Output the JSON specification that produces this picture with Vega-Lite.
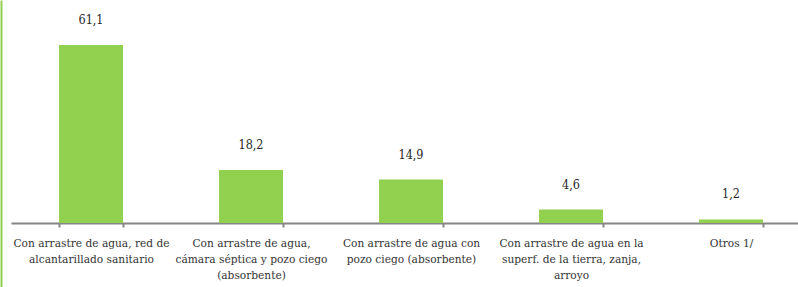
{
  "$schema": "https://vega.github.io/schema/vega-lite/v6.json",
  "width": 787,
  "height": 287,
  "autosize": "none",
  "padding": {"left": 11, "top": 0, "right": 0, "bottom": 0},
  "background": "white",
  "config": {
    "view": {"stroke": null},
    "locale": {"number": {"decimal": ",", "thousands": ".", "grouping": [3], "currency": ["", ""]}}
  },
  "data": {
    "values": [
      {"categoria": "Con arrastre de agua, red de\nalcantarillado sanitario", "porcentaje": 61.1},
      {"categoria": "Con arrastre de agua,\ncámara séptica y pozo ciego\n(absorbente)", "porcentaje": 18.2},
      {"categoria": "Con arrastre de agua con\npozo ciego (absorbente)", "porcentaje": 14.9},
      {"categoria": "Con arrastre de agua en la\nsuperf. de la tierra, zanja,\narroyo", "porcentaje": 4.6},
      {"categoria": "Otros 1/", "porcentaje": 1.2}
    ]
  },
  "encoding": {
    "x": {
      "field": "categoria",
      "type": "nominal",
      "sort": null,
      "scale": {"range": [0, 800], "paddingInner": 0.6, "paddingOuter": 0.3},
      "axis": {
        "title": null,
        "labelAngle": 0,
        "labelExpr": "split(datum.label, '\\n')",
        "labelFont": "DejaVu Serif Condensed",
        "labelFontSize": 11.8,
        "labelColor": "#333333",
        "labelLineHeight": 16,
        "labelPadding": 10,
        "labelLimit": 0,
        "tickBand": "extent",
        "tickSize": 4,
        "tickColor": "#868686",
        "tickWidth": 2,
        "domainColor": "#868686",
        "domainWidth": 2,
        "offset": -64
      }
    },
    "y": {
      "field": "porcentaje",
      "type": "quantitative",
      "scale": {"domain": [-21.96, 76.5], "nice": false, "zero": false},
      "axis": {
        "title": null,
        "labels": false,
        "ticks": false,
        "grid": false,
        "domainColor": "#92D050",
        "domainWidth": 2,
        "offset": 10
      }
    }
  },
  "layer": [
    {"mark": {"type": "bar", "color": "#92D050"}, "encoding": {"y2": {"datum": 0}}},
    {
      "mark": {"type": "text", "dy": -25, "baseline": "middle", "font": "DejaVu Serif Condensed", "fontSize": 12.5, "color": "#262626"},
      "encoding": {"text": {"field": "porcentaje", "type": "quantitative", "format": ".1f"}}
    }
  ]
}
